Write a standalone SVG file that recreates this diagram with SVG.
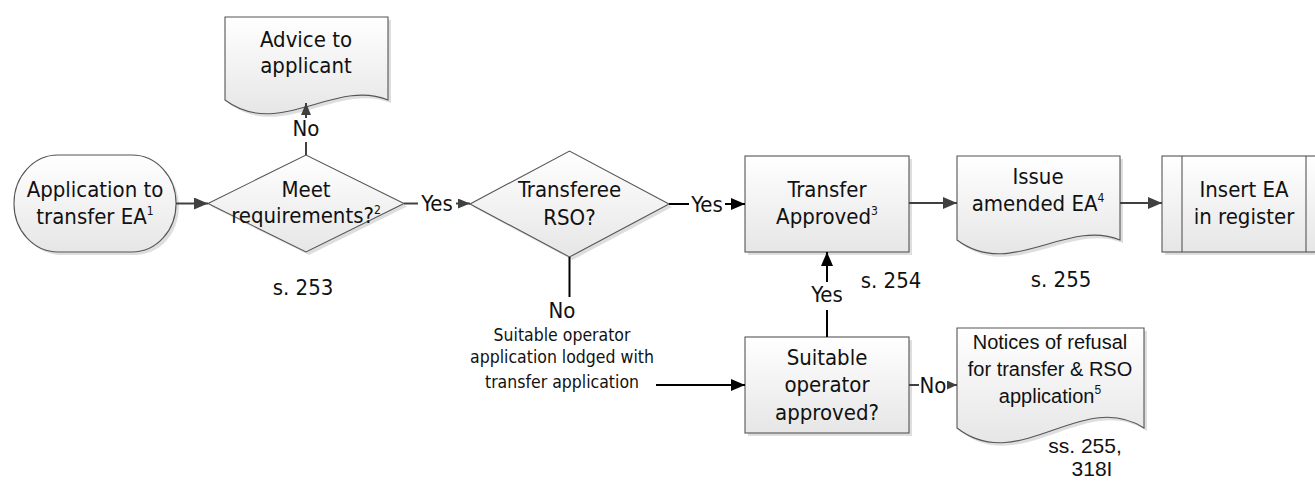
<svg xmlns="http://www.w3.org/2000/svg" width="1315" height="481" viewBox="0 0 1315 481">
<defs>
<linearGradient id="gf" x1="0" y1="0" x2="0" y2="1">
<stop offset="0" stop-color="#ffffff"/>
<stop offset="1" stop-color="#e6e6e6"/>
</linearGradient>
<marker id="ag" viewBox="0 0 14 12" refX="14" refY="6" markerWidth="14" markerHeight="12" orient="auto" markerUnits="userSpaceOnUse"><path d="M0,0 L14,6 L0,12 Z" fill="#404040"/></marker>
<marker id="ab" viewBox="0 0 14 12" refX="14" refY="6" markerWidth="14" markerHeight="12" orient="auto" markerUnits="userSpaceOnUse"><path d="M0,0 L14,6 L0,12 Z" fill="#000000"/></marker>
<marker id="as" viewBox="0 0 12 10" refX="12" refY="5" markerWidth="12" markerHeight="10" orient="auto" markerUnits="userSpaceOnUse"><path d="M0,0 L12,5 L0,10 Z" fill="#404040"/></marker>
<marker id="at" viewBox="0 0 10 9" refX="10" refY="4.5" markerWidth="10" markerHeight="9" orient="auto" markerUnits="userSpaceOnUse"><path d="M0,0 L10,4.5 L0,9 Z" fill="#404040"/></marker>
</defs>
<style>
.sh{fill:#dedede;stroke:none}
.shape{fill:url(#gf);stroke:#555555;stroke-width:1.1}
.t{font-family:"DejaVu Sans Condensed","DejaVu Sans",sans-serif;font-stretch:condensed;font-size:22px;fill:#111;text-anchor:middle}
.ts{font-family:"DejaVu Sans Condensed","DejaVu Sans",sans-serif;font-stretch:condensed;font-size:17.5px;fill:#111;text-anchor:middle}
.tc{font-family:"Liberation Sans",Arial,sans-serif;font-size:20px;fill:#111;text-anchor:middle}
.tc2{font-family:"Liberation Sans",Arial,sans-serif;font-size:21px;fill:#111;text-anchor:middle}
.sup{font-size:12px}
.cg{fill:none;stroke:#404040;stroke-width:2}
.cb{fill:none;stroke:#000000;stroke-width:2}
</style>

<g id="start">
<rect class="sh" x="17" y="158" width="162" height="97" rx="44" ry="48"/>
<rect class="shape" x="14" y="155" width="162" height="97" rx="44" ry="48"/>
<text class="t" x="95" y="197">Application to</text>
<text class="t" x="95" y="224">transfer EA<tspan class="sup" dy="-9">1</tspan></text>
</g>

<g id="meet">
<polygon class="sh" points="211,206.5 309,158 407,206.5 309,255"/>
<polygon class="shape" points="208,203.5 306,155 404,203.5 306,252"/>
<text class="t" x="306" y="197">Meet</text>
<text class="t" x="306" y="223">requirements?<tspan class="sup" dy="-9">2</tspan></text>
<text class="t" x="303" y="295">s. 253</text>
</g>

<g id="advice">
<path class="sh" d="M228,20 H391 V103 C337.2,81 281.8,143 228,103 Z"/>
<path class="shape" d="M225,17 H388 V100 C334.2,78 278.8,140 225,100 Z"/>
<text class="t" x="306" y="47">Advice to</text>
<text class="t" x="306" y="73">applicant</text>
</g>

<g id="rso">
<polygon class="sh" points="473,207 572.5,154 672,207 572.5,260"/>
<polygon class="shape" points="470,204 569.5,151 669,204 569.5,257"/>
<text class="t" x="569.5" y="197">Transferee</text>
<text class="t" x="569.5" y="225">RSO?</text>
</g>

<g id="approved">
<rect class="sh" x="748" y="159" width="164" height="96"/>
<rect class="shape" x="745" y="156" width="164" height="96"/>
<text class="t" x="827" y="197">Transfer</text>
<text class="t" x="827" y="224">Approved<tspan class="sup" dy="-9">3</tspan></text>
<text class="t" x="891" y="288">s. 254</text>
</g>

<g id="issue">
<path class="sh" d="M960,159 H1123 V243 C1069.2,221 1013.8,283 960,243 Z"/>
<path class="shape" d="M957,156 H1120 V240 C1066.2,218 1010.8,280 957,240 Z"/>
<text class="t" x="1038" y="184">Issue</text>
<text class="t" x="1038" y="211">amended EA<tspan class="sup" dy="-9">4</tspan></text>
<text class="t" x="1061" y="287">s. 255</text>
</g>

<g id="register">
<rect class="sh" x="1165" y="159" width="164" height="96"/>
<rect class="shape" x="1162" y="156" width="164" height="96"/>
<line x1="1182" y1="156" x2="1182" y2="252" stroke="#555555" stroke-width="1.1"/>
<line x1="1306" y1="156" x2="1306" y2="252" stroke="#555555" stroke-width="1.1"/>
<text class="t" x="1244" y="197">Insert EA</text>
<text class="t" x="1244" y="224">in register</text>
</g>

<g id="suitable">
<rect class="sh" x="748" y="340" width="164" height="96"/>
<rect class="shape" x="745" y="337" width="164" height="96"/>
<text class="t" x="827" y="365">Suitable</text>
<text class="t" x="827" y="392">operator</text>
<text class="t" x="827" y="420">approved?</text>
</g>

<g id="notices">
<path class="sh" d="M960,331 H1147 V431 C1085.3,391 1021.7,479 960,431 Z"/>
<path class="shape" d="M957,328 H1144 V428 C1082.3,388 1018.7,476 957,428 Z"/>
<text class="tc" x="1050" y="349">Notices of refusal</text>
<text class="tc" x="1050" y="376">for transfer &amp; RSO</text>
<text class="tc" x="1050" y="403">application<tspan class="sup" dy="-9">5</tspan></text>
<text class="tc2" x="1085" y="453">ss. 255,</text>
<text class="tc2" x="1092" y="476">318I</text>
</g>

<g id="connectors">
<path class="cg" d="M176,203.5 H208" marker-end="url(#ag)"/>
<path class="cg" d="M306,155 V142"/>
<path class="cg" d="M306,118 V103" marker-end="url(#as)"/>
<text class="t" x="306" y="136">No</text>
<path class="cg" d="M404,203.5 H418"/>
<path class="cg" d="M456,203.5 H470" marker-end="url(#as)"/>
<text class="t" x="437" y="211">Yes</text>
<path class="cb" d="M669,204 H689"/>
<path class="cb" d="M725,204 H745" marker-end="url(#ab)"/>
<text class="t" x="707" y="212">Yes</text>
<path class="cg" d="M909,203 H957" marker-end="url(#ag)"/>
<path class="cg" d="M1120,203 H1162" marker-end="url(#ag)"/>
<path class="cb" d="M569.5,257 V297"/>
<text class="t" x="562" y="318">No</text>
<text class="ts" x="562" y="341">Suitable operator</text>
<text class="ts" x="562" y="363">application lodged with</text>
<text class="ts" x="562" y="388">transfer application</text>
<path class="cb" d="M656,385 H745" marker-end="url(#ab)"/>
<path class="cb" d="M827,337 V310"/>
<path class="cb" d="M827,282 V252" marker-end="url(#ab)"/>
<text class="t" x="827" y="302">Yes</text>
<path class="cg" d="M909,385 H919"/>
<path class="cg" d="M947,385 H957" marker-end="url(#at)"/>
<text class="t" x="933" y="393">No</text>
</g>
</svg>
